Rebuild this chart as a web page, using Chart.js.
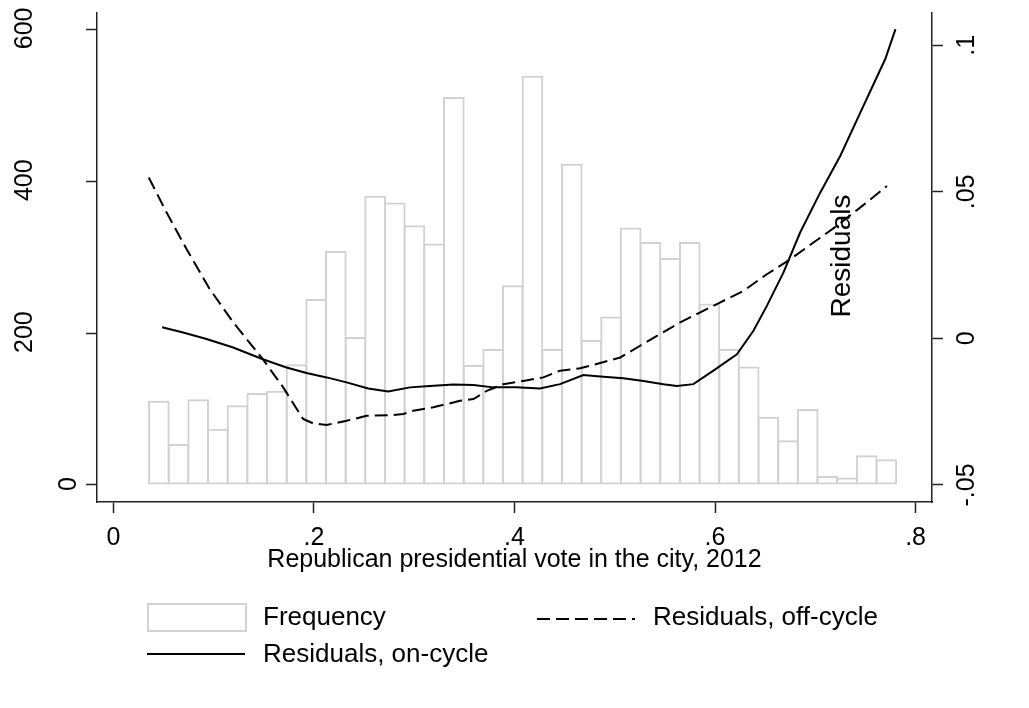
<!DOCTYPE html>
<html>
<head>
<meta charset="utf-8">
<script src="https://cdn.jsdelivr.net/npm/chart.js@4/dist/chart.umd.min.js"></script>
<style>
  html, body { margin: 0; padding: 0; background: #fff; }
  #wrap { width: 1029px; height: 708px; }
</style>
</head>
<body>
<div id="wrap"><canvas id="chart"></canvas></div>
<script>
// Histogram bins (centres) and frequencies
const binCenters = [0.0453, 0.0649, 0.0845, 0.1041, 0.1237, 0.1434, 0.1630, 0.1826, 0.2022, 0.2218,
                    0.2414, 0.2610, 0.2806, 0.3002, 0.3198, 0.3395, 0.3591, 0.3787, 0.3983, 0.4179,
                    0.4375, 0.4571, 0.4767, 0.4963, 0.5159, 0.5356, 0.5552, 0.5748, 0.5944, 0.6140,
                    0.6336, 0.6532, 0.6728, 0.6924, 0.7120, 0.7317, 0.7513, 0.7709];
const frequency = [111, 54, 113, 74, 105, 121, 124, 159, 245, 308,
                   195, 381, 372, 342, 318, 511, 158, 179, 263, 539,
                   179, 423, 191, 222, 339, 320, 299, 320, 239, 179,
                   156, 90, 59, 100, 12, 10, 39, 34];

// Residuals, off-cycle (dashed)
const offX = [0.0352, 0.0529, 0.0729, 0.0961, 0.1194, 0.149, 0.1693, 0.1892, 0.1992, 0.2126,
              0.2325, 0.2525, 0.2758, 0.289, 0.299, 0.319, 0.3456, 0.359, 0.3723, 0.3888,
              0.4088, 0.4288, 0.4454, 0.4654, 0.4855, 0.5054, 0.5253, 0.5453, 0.5653, 0.5853,
              0.6053, 0.6283, 0.6517, 0.675, 0.6982, 0.7216, 0.745, 0.7715];
const offY = [0.0549, 0.043, 0.0305, 0.0168, 0.0055, -0.0071, -0.0167, -0.0275, -0.029, -0.0295,
              -0.0281, -0.0264, -0.0262, -0.0258, -0.0247, -0.0235, -0.0213, -0.0207, -0.0179, -0.0156,
              -0.0145, -0.0133, -0.011, -0.0102, -0.0084, -0.0065, -0.0025, 0.0015, 0.0055, 0.0089,
              0.0123, 0.0162, 0.0219, 0.027, 0.0327, 0.0384, 0.0447, 0.052];

// Residuals, on-cycle (solid)
const onX = [0.0485, 0.0695, 0.0928, 0.1194, 0.149, 0.1726, 0.1926, 0.2126, 0.2325, 0.2541,
             0.274, 0.2957, 0.3157, 0.339, 0.359, 0.3788, 0.402, 0.4254, 0.4454, 0.4687,
             0.4855, 0.5086, 0.5286, 0.5485, 0.5619, 0.5784, 0.5984, 0.6218, 0.6383, 0.6517,
             0.6683, 0.685, 0.705, 0.725, 0.745, 0.7698, 0.78];
const onY = [0.0038, 0.002, -0.0002, -0.0031, -0.0071, -0.0099, -0.0118, -0.0133, -0.015, -0.0171,
             -0.0181, -0.0167, -0.0162, -0.0157, -0.0159, -0.0167, -0.0167, -0.0171, -0.0156, -0.0125,
             -0.013, -0.0136, -0.0145, -0.0156, -0.0162, -0.0156, -0.011, -0.0054, 0.0026, 0.0111,
             0.0225, 0.0362, 0.0498, 0.0623, 0.0771, 0.0953, 0.1055];

// Axis ticks
const xTicks = [0, 0.2, 0.4, 0.6, 0.8];
const xTickLabels = ['0', '.2', '.4', '.6', '.8'];
const yTicks = [0, 200, 400, 600];
const yTickLabels = ['0', '200', '400', '600'];
const y2Ticks = [-0.05, 0, 0.05, 0.1];
const y2TickLabels = ['-.05', '0', '.05', '.1'];

const FONT = '"Liberation Sans", Arial, sans-serif';
const AXIS = '#222';
const BARLINE = '#d2d2d2';
const LABEL_SIZE = 25;

Chart.defaults.font.family = FONT;
Chart.defaults.color = '#000';

const fixedTicks = list => scale => { scale.ticks = list.map(v => ({ value: v })); };

// Rotated y tick labels, Stata style, plus the stray "Residuals" axis title
const stataText = {
    id: 'stataText',
    afterDraw(chart) {
        const ctx = chart.ctx;
        const drawUp = (text, x, y, size) => {
            ctx.save();
            ctx.translate(x, y);
            ctx.rotate(-Math.PI / 2);
            ctx.font = `${size}px ${FONT}`;
            ctx.fillStyle = '#000';
            ctx.textAlign = 'center';
            ctx.textBaseline = 'alphabetic';
            ctx.fillText(text, 0, 0);
            ctx.restore();
        };
        const y = chart.scales.y, y2 = chart.scales.y2;
        ctx.font = `${LABEL_SIZE}px ${FONT}`;
        const oneDigit = ctx.measureText('0').width;
        y.ticks.forEach((t, i) => {
            // Stata pushes longer rotated labels out toward the margin
            const w = ctx.measureText(yTickLabels[i]).width;
            const bx = 76 - 1.6 * (w - oneDigit);
            drawUp(yTickLabels[i], bx, y.getPixelForValue(t.value) - 1, LABEL_SIZE);
        });
        y2.ticks.forEach((t, i) => drawUp(y2TickLabels[i], 974, y2.getPixelForValue(t.value), LABEL_SIZE));
        drawUp('Residuals', 850, 256, 28);
    }
};

// Two-column legend under the plot
const stataLegend = {
    id: 'stataLegend',
    afterDraw(chart) {
        const ctx = chart.ctx;
        const ds = chart.data.datasets;
        const slots = [[147, 617], [537, 619], [147, 654]];
        ctx.save();
        ds.forEach((d, i) => {
            const [x, y] = slots[i];
            ctx.beginPath();
            if (d.type === 'line') {
                ctx.strokeStyle = d.borderColor;
                ctx.lineWidth = 2;
                ctx.setLineDash(d.borderDash || []);
                ctx.moveTo(x, y);
                ctx.lineTo(x + 98, y);
                ctx.stroke();
            } else {
                ctx.setLineDash([]);
                ctx.strokeStyle = d.borderColor;
                ctx.lineWidth = 2;
                ctx.fillStyle = '#fff';
                ctx.rect(x + 1, y - 13, 98, 27);
                ctx.fill();
                ctx.stroke();
            }
            ctx.setLineDash([]);
            ctx.fillStyle = '#000';
            ctx.font = `26px ${FONT}`;
            ctx.textAlign = 'left';
            ctx.textBaseline = 'middle';
            ctx.fillText(d.label, x + 116, slots[i][0] === 537 ? y - 1 : y + 1);
        });
        ctx.restore();
    }
};

const ctx = document.getElementById('chart').getContext('2d');
new Chart(ctx, {
    type: 'bar',
    data: {
        datasets: [
            {
                type: 'bar',
                label: 'Frequency',
                data: binCenters.map((x, i) => ({ x: x, y: frequency[i] })),
                yAxisID: 'y',
                backgroundColor: 'rgba(255,255,255,0)',
                borderColor: BARLINE,
                borderWidth: 2,
                borderSkipped: false,
                barPercentage: 1.1,
                categoryPercentage: 1,
                order: 3
            },
            {
                type: 'line',
                label: 'Residuals, off-cycle',
                data: offX.map((x, i) => ({ x: x, y: offY[i] })),
                yAxisID: 'y2',
                borderColor: '#000',
                borderWidth: 2,
                borderDash: [13, 6],
                pointRadius: 0,
                tension: 0,
                fill: false,
                order: 2
            },
            {
                type: 'line',
                label: 'Residuals, on-cycle',
                data: onX.map((x, i) => ({ x: x, y: onY[i] })),
                yAxisID: 'y2',
                borderColor: '#000',
                borderWidth: 2,
                pointRadius: 0,
                tension: 0,
                fill: false,
                order: 1
            }
        ]
    },
    options: {
        responsive: true,
        maintainAspectRatio: false,
        animation: false,
        layout: { padding: { top: 13, left: 0, right: 0, bottom: 0 } },
        plugins: {
            legend: { display: false },
            tooltip: { enabled: false }
        },
        scales: {
            x: {
                type: 'linear',
                position: 'bottom',
                min: -0.0164,
                max: 0.8164,
                offset: false,
                afterBuildTicks: fixedTicks(xTicks),
                afterFit: s => { s.height = 206; },
                border: { display: true, color: AXIS, width: 1.5 },
                grid: { display: true, offset: false, drawOnChartArea: false, drawTicks: true, tickLength: 11, tickWidth: 1.5, tickColor: AXIS },
                ticks: {
                    autoSkip: false,
                    maxRotation: 0,
                    padding: 10,
                    font: { size: LABEL_SIZE },
                    callback: (v, i) => xTickLabels[i]
                },
                title: {
                    display: true,
                    text: 'Republican presidential vote in the city, 2012',
                    font: { size: 25 },
                    padding: { top: 0, bottom: 133 }
                }
            },
            y: {
                type: 'linear',
                position: 'left',
                min: -22.4,
                max: 621.5,
                afterBuildTicks: fixedTicks(yTicks),
                afterFit: s => { s.width = 97; },
                border: { display: true, color: AXIS, width: 1.5 },
                grid: { display: true, drawOnChartArea: false, drawTicks: true, tickLength: 11, tickWidth: 1.5, tickColor: AXIS },
                ticks: { display: false }
            },
            y2: {
                type: 'linear',
                position: 'right',
                min: -0.0558,
                max: 0.111,
                afterBuildTicks: fixedTicks(y2Ticks),
                afterFit: s => { s.width = 97; },
                border: { display: true, color: AXIS, width: 1.5 },
                grid: { display: true, drawOnChartArea: false, drawTicks: true, tickLength: 11, tickWidth: 1.5, tickColor: AXIS },
                ticks: { display: false }
            }
        }
    },
    plugins: [stataText, stataLegend]
});
</script>
</body>
</html>
